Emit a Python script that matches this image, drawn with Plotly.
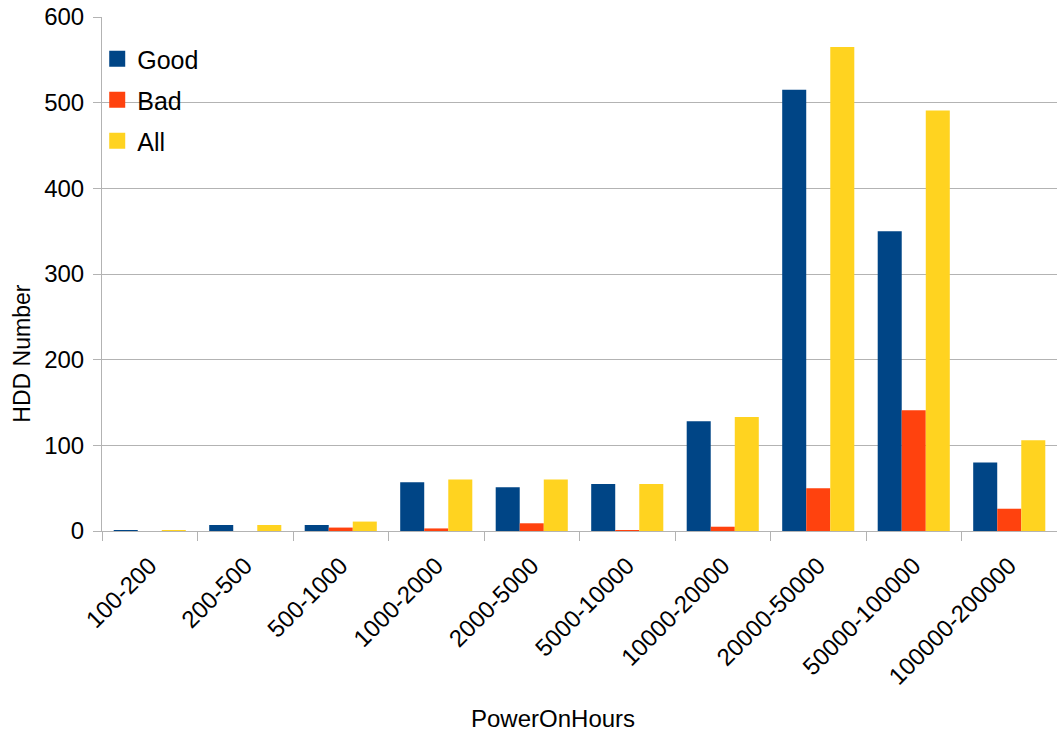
import plotly.graph_objects as go

categories = ["100-200", "200-500", "500-1000", "1000-2000", "2000-5000", "5000-10000",
              "10000-20000", "20000-50000", "50000-100000", "100000-200000"]
good = [1, 7, 7, 57, 51, 55, 128, 515, 350, 80]
bad = [0, 0, 4, 3, 9, 1, 5, 50, 141, 26]
all_ = [1, 7, 11, 60, 60, 55, 133, 565, 491, 106]

colors = {"Good": "#004586", "Bad": "#ff420e", "All": "#ffd320"}
series = [("Good", good), ("Bad", bad), ("All", all_)]

fig = go.Figure()
for name, vals in series:
    fig.add_trace(go.Bar(x=categories, y=vals, name=name, marker_color=colors[name],
                         marker_line_width=0, showlegend=False))
# legend entries with larger square symbols
for name, _ in series:
    fig.add_trace(go.Scatter(x=[None], y=[None], mode="markers", name=name,
                             legendgroup=name,
                             marker=dict(symbol="square", size=16, color=colors[name])))

font = "Liberation Sans, Arial, sans-serif"
fig.update_layout(
    width=1057, height=731,
    margin=dict(l=102, r=0, t=17, b=200),
    plot_bgcolor="white", paper_bgcolor="white",
    barmode="group", bargap=0.245, bargroupgap=0,
    font=dict(family=font, size=24, color="black"),
    legend=dict(x=-0.005, y=0.963, xanchor="left", yanchor="top",
                bgcolor="rgba(0,0,0,0)", font=dict(size=25), itemwidth=30,
                tracegroupgap=5.5, traceorder="grouped"),
    xaxis=dict(tickangle=-45, showline=True, linecolor="#b3b3b3", linewidth=1,
               ticks="outside", tickson="boundaries", ticklen=9, tickcolor="#b3b3b3",
               tickfont=dict(size=24), showgrid=False, ticklabelstandoff=10),
    yaxis=dict(range=[0, 600], dtick=100, showline=True, linecolor="#b3b3b3",
               gridcolor="#b3b3b3", gridwidth=1, ticks="outside", ticklen=8,
               tickcolor="#b3b3b3", tickfont=dict(size=24), zeroline=False,
               ticklabelstandoff=4),
    annotations=[
        dict(text="PowerOnHours", xref="paper", yref="paper", x=0.472, y=-0.3645,
             xanchor="center", yanchor="middle", showarrow=False, font=dict(size=24)),
        dict(text="HDD Number", xref="paper", yref="paper", x=-0.0838, y=0.345,
             xanchor="center", yanchor="middle", showarrow=False, textangle=-90,
             font=dict(size=23)),
    ],
)
fig.write_html("out.html")
